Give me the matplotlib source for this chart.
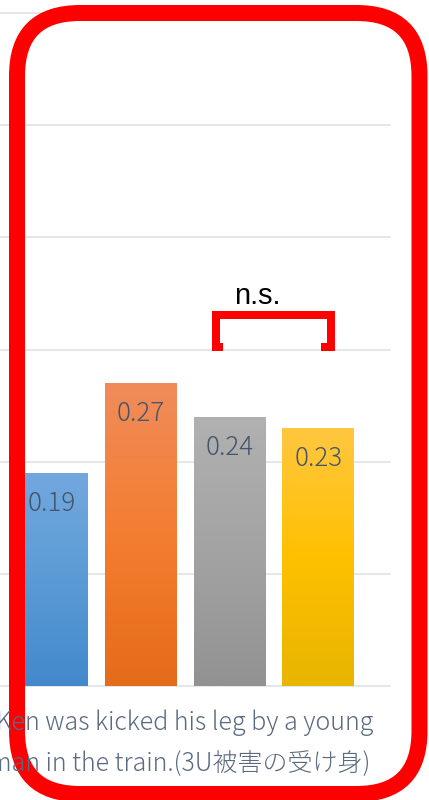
import numpy as np
import matplotlib
matplotlib.use("Agg")
import matplotlib.pyplot as plt
from matplotlib.colors import LinearSegmentedColormap
from matplotlib.patches import FancyBboxPatch

# ---- data ----
categories = ["A", "B", "C", "D"]
values = [0.19, 0.27, 0.24, 0.23]
value_labels = ["0.19", "0.27", "0.24", "0.23"]
y_ticks = [0.0, 0.1, 0.2, 0.3, 0.4, 0.5, 0.6]
axis_caption = ["Ken was kicked his leg by a young",
                "man in the train.(3U被害の受け身)"]
sig_label = "n.s."

# ---- styling ----
gradients = [
    ("#73a8de", "#5b9bd5", "#4289cc"),   # blue  (top, mid, bottom)
    ("#f08c5a", "#f47d30", "#e46c19"),   # orange
    ("#b1b1b1", "#a3a3a3", "#929292"),   # gray
    ("#ffc740", "#ffc000", "#e8b500"),   # yellow
]
label_color = "#44546a"
caption_color = "#5a6a80"
grid_color = "#dadee4"
red = "#ff0000"

W, H, DPI = 429, 800, 100
fig = plt.figure(figsize=(W / DPI, H / DPI), dpi=DPI)
fig.patch.set_facecolor("white")

px = 1.0 / DPI * 72  # points per pixel

# plot area: x 0..390 px, y 13..686 px (image coords)
ax = fig.add_axes([0, (H - 686) / H, 390 / W, (686 - 13) / H])
ax.set_facecolor("none")
for s in ax.spines.values():
    s.set_visible(False)
ax.set_xticks([])
ax.set_yticks([])

x = np.arange(len(categories))
bar_w = 0.81
bars = ax.bar(x, values, width=bar_w, color="none", edgecolor="none", zorder=3)

grad = np.linspace(0, 1, 256).reshape(-1, 1)
for b, (ctop, cmid, cbot) in zip(bars, gradients):
    x0, y0 = b.get_xy()
    w, h = b.get_width(), b.get_height()
    cmap = LinearSegmentedColormap.from_list("g", [cbot, cmid, ctop])
    im = ax.imshow(grad, cmap=cmap, extent=[x0, x0 + w, y0, y0 + h],
                   origin="lower", aspect="auto", zorder=3, interpolation="bilinear")
    im.set_clip_path(b)

for t in y_ticks:
    ax.axhline(t, color=grid_color, lw=1.5 * px, zorder=1, clip_on=False)

ax.set_xlim(-0.586, 3.806)
ax.set_ylim(0, 0.6)
ax.set_aspect("auto")

font = ["Noto Sans CJK JP", "DejaVu Sans"]

for xi, v, lab in zip(x, values, value_labels):
    ax.annotate(lab, (xi, v), xytext=(0, -31 * px), textcoords="offset points",
                ha="center", va="center", color=label_color,
                fontsize=26 * px, family=font, fontweight="light", zorder=5)

# significance bracket between the last two bars
bx = [1.922, 1.847, 1.847, 3.136, 3.136, 3.029]
by = [0.302, 0.302, 0.3306, 0.3306, 0.302, 0.302]
ax.plot(bx, by, color=red, lw=8 * px, solid_joinstyle="miter",
        solid_capstyle="butt", clip_on=False, zorder=6)
ax.text(2.314, 0.341, sig_label, ha="center", va="baseline", color="black",
        fontsize=29 * px, family=["Liberation Sans", "DejaVu Sans"], zorder=6)

# category caption below the axis
fig.text(373 / W, 1 - 730 / H, axis_caption[0], ha="right", va="baseline",
         color=caption_color, fontsize=25 * px, family=font, fontweight="light")
fig.text(370 / W, 1 - 771 / H, axis_caption[1], ha="right", va="baseline",
         color=caption_color, fontsize=25 * px, family=font, fontweight="light")

# red rounded frame, drawn in pixel coordinates
ov = fig.add_axes([0, 0, 1, 1])
ov.set_xlim(0, W)
ov.set_ylim(H, 0)
ov.axis("off")
ov.set_facecolor("none")
frame = FancyBboxPatch((17, 13), 402.5, 781,
                       boxstyle="round,pad=0,rounding_size=63",
                       fill=False, edgecolor=red, linewidth=16 * px)
ov.add_patch(frame)

fig.savefig("out.png", dpi=DPI)
